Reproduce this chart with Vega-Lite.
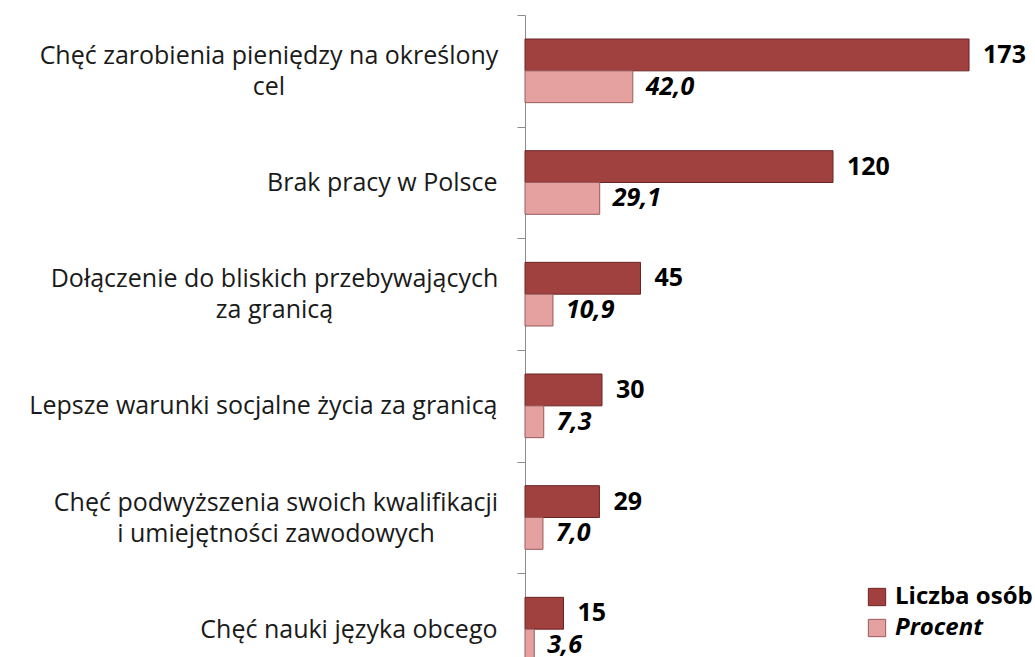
{
  "$schema": "https://vega.github.io/schema/vega-lite/v6.json",
  "autosize": "none",
  "padding": {"left": 525, "top": 15, "right": 0, "bottom": 0},
  "width": 510,
  "height": 670,
  "background": "white",
  "data": {
    "values": [
      {"category": "Chęć zarobienia pieniędzy na określony|cel", "series": "Liczba osób", "value": 173, "text": "173"},
      {"category": "Chęć zarobienia pieniędzy na określony|cel", "series": "Procent", "value": 42.0, "text": "42,0"},
      {"category": "Brak pracy w Polsce", "series": "Liczba osób", "value": 120, "text": "120"},
      {"category": "Brak pracy w Polsce", "series": "Procent", "value": 29.1, "text": "29,1"},
      {"category": "Dołączenie do bliskich przebywających|za granicą", "series": "Liczba osób", "value": 45, "text": "45"},
      {"category": "Dołączenie do bliskich przebywających|za granicą", "series": "Procent", "value": 10.9, "text": "10,9"},
      {"category": "Lepsze warunki socjalne życia za granicą", "series": "Liczba osób", "value": 30, "text": "30"},
      {"category": "Lepsze warunki socjalne życia za granicą", "series": "Procent", "value": 7.3, "text": "7,3"},
      {"category": "Chęć podwyższenia swoich kwalifikacji|i umiejętności zawodowych", "series": "Liczba osób", "value": 29, "text": "29"},
      {"category": "Chęć podwyższenia swoich kwalifikacji|i umiejętności zawodowych", "series": "Procent", "value": 7.0, "text": "7,0"},
      {"category": "Chęć nauki języka obcego", "series": "Liczba osób", "value": 15, "text": "15"},
      {"category": "Chęć nauki języka obcego", "series": "Procent", "value": 3.6, "text": "3,6"}
    ]
  },
  "encoding": {
    "y": {
      "field": "category",
      "type": "nominal",
      "sort": null,
      "scale": {"paddingInner": 0.43, "paddingOuter": 0.215},
      "axis": {
        "title": null,
        "labelExpr": "isValid(datum.value) ? split(datum.value, '|') : ''",
        "labelFont": "Open Sans",
        "labelFontSize": 25,
        "labelColor": "#1a1a1a",
        "labelLineHeight": 31,
        "labelLimit": 0,
        "labelAlign": {"condition": {"test": "indexof(datum.value, '|') >= 0", "value": "center"}, "value": "right"},
        "labelPadding": {"expr": "indexof(datum.value, 'Chęć zarobienia') == 0 ? 248.5 : indexof(datum.value, 'Dołączenie') == 0 ? 243 : indexof(datum.value, 'Chęć podwyższenia') == 0 ? 241.5 : 20"},
        "tickOffset": -55.83,
        "labelOffset": {"condition": {"test": "indexof(datum.value, '|') >= 0", "value": 40.33}, "value": 55.83},
        "tickSize": 8,
        "tickColor": "#8c8c8c",
        "domainColor": "#8c8c8c",
        "grid": false
      }
    },
    "yOffset": {
      "field": "series",
      "type": "nominal",
      "scale": {"domain": ["Liczba osób", "Procent"], "paddingInner": 0}
    },
    "x": {
      "field": "value",
      "type": "quantitative",
      "scale": {"domain": [0, 198.7], "nice": false, "zero": true},
      "axis": null
    }
  },
  "layer": [
    {
      "mark": {"type": "bar", "strokeWidth": 1},
      "encoding": {
        "color": {
          "field": "series",
          "type": "nominal",
          "scale": {"domain": ["Liczba osób", "Procent"], "range": ["#A0403F", "#E5A0A0"]},
          "legend": {
            "title": null,
            "orient": "none",
            "legendX": 340,
            "legendY": 570,
            "padding": 0,
            "symbolType": "square",
            "symbolSize": 300,
            "symbolStrokeWidth": 1,
            "labelFont": "Open Sans",
            "labelFontSize": 24,
            "labelFontWeight": "bold",
            "labelColor": "#000000",
            "labelOffset": 6,
            "rowPadding": 7,
            "encode": {
              "labels": {
                "update": {
                  "fontStyle": {"signal": "datum.label === 'Procent' ? 'italic' : 'normal'"}
                }
              }
            }
          }
        },
        "stroke": {
          "field": "series",
          "type": "nominal",
          "scale": {"domain": ["Liczba osób", "Procent"], "range": ["#6a2424", "#9a5a5a"]},
          "legend": null
        }
      }
    },
    {
      "transform": [{"filter": "datum.series === 'Liczba osób'"}],
      "mark": {"type": "text", "align": "left", "baseline": "middle", "dx": 14, "font": "Open Sans", "fontSize": 25, "fontWeight": "bold", "color": "#000000"},
      "encoding": {"text": {"field": "text"}}
    },
    {
      "transform": [{"filter": "datum.series === 'Procent'"}],
      "mark": {"type": "text", "align": "left", "baseline": "middle", "dx": 13, "font": "Open Sans", "fontSize": 25, "fontWeight": "bold", "fontStyle": "italic", "color": "#000000"},
      "encoding": {"text": {"field": "text"}}
    }
  ],
  "config": {"view": {"stroke": null}}
}
